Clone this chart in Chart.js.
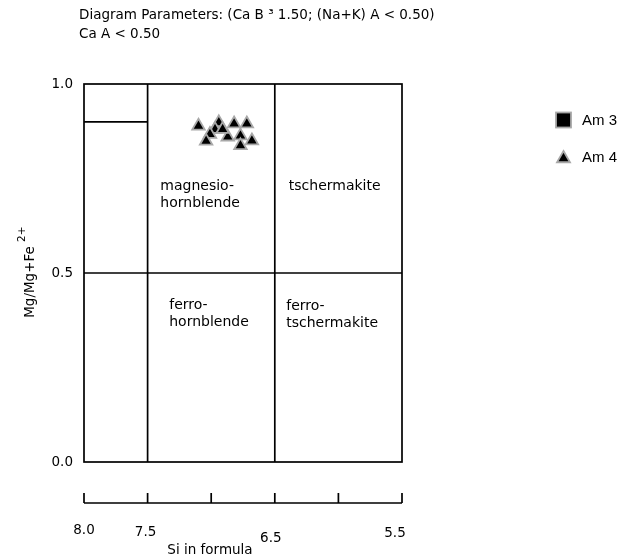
<!DOCTYPE html>
<html>
<head>
<meta charset="utf-8">
<script src="https://cdn.jsdelivr.net/npm/chart.js@4/dist/chart.umd.min.js"></script>
<style>
  body { margin: 0; background: #fff; }
  canvas { display: block; }
</style>
</head>
<body>
<canvas id="amphChart" width="621" height="560"></canvas>
<script>
const am3Si = [];
const am3Mg = [];
const am4Si = [7.10, 6.94, 6.82, 6.72, 6.97, 7.01, 7.04, 6.87, 6.77, 6.68, 6.77, 6.91];
const am4Mg = [0.889, 0.898, 0.895, 0.895, 0.880, 0.867, 0.849, 0.860, 0.863, 0.850, 0.837, 0.880];

const xTicks = [8.0, 7.5, 7.0, 6.5, 6.0, 5.5];
const xTickLabels = ['8.0', '7.5', '', '6.5', '', '5.5'];
const yTicks = [1.0, 0.5, 0.0];
const yTickLabels = ['1.0', '0.5', '0.0'];

// limites des champs : [x1, y1, x2, y2]
const fieldLines = [
    [7.5, 0, 7.5, 1],
    [6.5, 0, 6.5, 1],
    [8.0, 0.5, 5.5, 0.5],
    [8.0, 0.9, 7.5, 0.9]
];
const fieldNames = [
    ['magnesio-', 'hornblende'],
    ['tschermakite'],
    ['ferro-', 'hornblende'],
    ['ferro-', 'tschermakite']
];
const fieldSi = [7.40, 6.39, 7.33, 6.41];
const fieldMg = [0.728, 0.728, 0.415, 0.411];

const titleLines = ['Diagram Parameters: (Ca B ³ 1.50; (Na+K) A < 0.50)', 'Ca A < 0.50'];
const seriesNames = ['Am 3', 'Am 4'];

const FONT = '"DejaVu Sans", sans-serif';

function toPoints(xs, ys) {
    return xs.map((x, i) => ({ x: x, y: ys[i] }));
}

const diagramPlugin = {
    id: 'diagram',
    beforeDatasetsDraw(chart) {
        const ctx = chart.ctx;
        const sx = chart.scales.x, sy = chart.scales.y;
        ctx.save();
        ctx.strokeStyle = '#000';
        ctx.lineWidth = 1.7;
        // cadre
        const l = sx.getPixelForValue(8.0), r = sx.getPixelForValue(5.5);
        const t = sy.getPixelForValue(1.0), b = sy.getPixelForValue(0.0);
        ctx.strokeRect(l, t, r - l, b - t);
        fieldLines.forEach(s => {
            ctx.beginPath();
            ctx.moveTo(sx.getPixelForValue(s[0]), sy.getPixelForValue(s[1]));
            ctx.lineTo(sx.getPixelForValue(s[2]), sy.getPixelForValue(s[3]));
            ctx.stroke();
        });

        // noms des champs
        ctx.fillStyle = '#000';
        ctx.font = '14px ' + FONT;
        ctx.textAlign = 'left';
        ctx.textBaseline = 'middle';
        fieldNames.forEach((lines, i) => {
            const px = sx.getPixelForValue(fieldSi[i]);
            const py = sy.getPixelForValue(fieldMg[i]);
            lines.forEach((txt, k) => ctx.fillText(txt, px, py + k * 17));
        });

        // graduations Y
        ctx.font = '13.5px ' + FONT;
        ctx.textAlign = 'right';
        yTicks.forEach((v, i) => {
            ctx.fillText(yTickLabels[i], 73, sy.getPixelForValue(v));
        });

        // axe X séparé, sous le cadre
        const base = 503;
        ctx.beginPath();
        ctx.moveTo(l, base);
        ctx.lineTo(r, base);
        xTicks.forEach(v => {
            const px = sx.getPixelForValue(v);
            ctx.moveTo(px, base);
            ctx.lineTo(px, base - 10);
        });
        ctx.stroke();

        // étiquettes décalées comme sur l'original
        const dx = [0, -2, 0, -4, 0, -7];
        const dy = [27, 29, 0, 35, 0, 30];
        ctx.textAlign = 'center';
        xTicks.forEach((v, i) => {
            if (!xTickLabels[i]) return;
            ctx.fillText(xTickLabels[i], sx.getPixelForValue(v) + dx[i], base + dy[i]);
        });
        ctx.fillText('Si in formula', 210, 550);

        // titre axe Y
        ctx.save();
        ctx.translate(30, 282);
        ctx.rotate(-Math.PI / 2);
        ctx.font = '13.5px ' + FONT;
        ctx.textAlign = 'center';
        ctx.fillText('Mg/Mg+Fe', 0, 0);
        ctx.font = '10.5px ' + FONT;
        ctx.textAlign = 'left';
        ctx.fillText('2+', 40, -8);
        ctx.restore();

        // titre
        ctx.textAlign = 'left';
        ctx.textBaseline = 'alphabetic';
        ctx.fillText(titleLines[0], 79, 18.5);
        ctx.fillText(titleLines[1], 79, 37.5);
        ctx.restore();
    },
    afterDraw(chart) {
        // légende
        const ctx = chart.ctx;
        ctx.save();
        ctx.fillStyle = '#000';
        ctx.strokeStyle = '#a8a8a8';
        ctx.lineWidth = 1.8;
        ctx.fillRect(556, 112.5, 15, 15);
        ctx.strokeRect(556, 112.5, 15, 15);
        Chart.helpers.drawPoint(ctx, {
            pointStyle: 'triangle', radius: 7.5, rotation: 0, borderWidth: 1.8
        }, 563.5, 158.5);
        ctx.fillStyle = '#000';
        ctx.font = '15px "Liberation Sans", Arial, sans-serif';
        ctx.textBaseline = 'middle';
        ctx.fillText(seriesNames[0], 582, 120.5);
        ctx.fillText(seriesNames[1], 582, 157.5);
        ctx.restore();
    }
};

new Chart(document.getElementById('amphChart'), {
    type: 'scatter',
    data: {
        datasets: [{
            label: seriesNames[0],
            data: toPoints(am3Si, am3Mg),
            pointStyle: 'rect',
            pointRadius: 7,
            backgroundColor: '#000',
            borderColor: '#a8a8a8',
            borderWidth: 1.8
        }, {
            label: seriesNames[1],
            data: toPoints(am4Si, am4Mg),
            pointStyle: 'triangle',
            pointRadius: 7.2,
            backgroundColor: '#000',
            borderColor: '#a8a8a8',
            borderWidth: 1.8
        }]
    },
    options: {
        responsive: false,
        devicePixelRatio: 1,
        animation: false,
        layout: { padding: { left: 84, top: 84, right: 219, bottom: 98 } },
        plugins: {
            legend: { display: false },
            tooltip: { enabled: false }
        },
        scales: {
            x: { type: 'linear', min: 5.5, max: 8.0, reverse: true, display: false },
            y: { type: 'linear', min: 0, max: 1, display: false }
        }
    },
    plugins: [diagramPlugin]
});
</script>
</body>
</html>
